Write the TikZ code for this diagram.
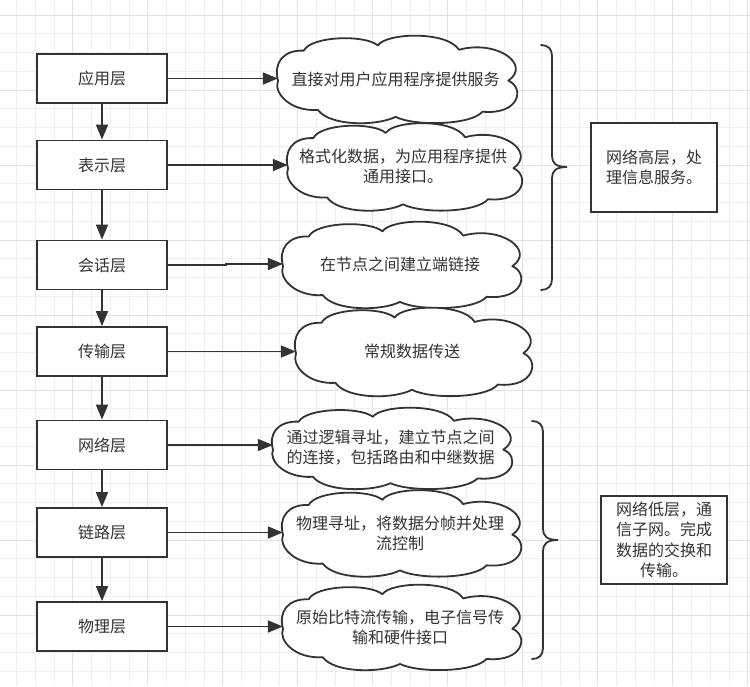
\documentclass[tikz,border=0pt]{standalone}
\usepackage{fontspec}
\usetikzlibrary{arrows.meta}
\newfontfamily\cjk{Noto Sans CJK SC}
\definecolor{ink}{HTML}{333333}
\definecolor{gridminor}{HTML}{EFEFEF}
\definecolor{gridmajor}{HTML}{E2E2E2}
\tikzset{
  layerbox/.style={draw=ink, line width=1.8pt, fill=white, minimum width=130pt, minimum height=49pt, inner sep=0pt, font=\cjk\fontsize{16}{20}\selectfont, text=ink},
  notebox/.style={draw=ink, line width=1.8pt, fill=white, minimum width=126pt, inner sep=0pt, align=center, font=\cjk\fontsize{16}{20.5}\selectfont, text=ink},
  cloudtext/.style={inner sep=0pt, align=center, font=\cjk\fontsize{16}{20}\selectfont, text=ink},
  cloudline/.style={draw=ink, line width=1.8pt, fill=white, line join=round},
  flow/.style={draw=ink, line width=1.8pt, -{Triangle[length=15pt,width=12pt]}},
  braceline/.style={draw=ink, line width=1.8pt, line cap=round},
}
% #1 name, #2 cx, #3 cy, #4 w, #5 h, #6 text
\newcommand\cloudnode[6]{%
  \begin{scope}[shift={({#2-#4/2},{#3-#5/2})}, x=#4pt, y=-#5pt]
    \draw[cloudline] (0,0.52)
      .. controls (-0.02,0.32) and (0.02,0.16) .. (0.11,0.17)
      .. controls (0.14,0.0) and (0.37,-0.02) .. (0.425,0.11)
      .. controls (0.46,-0.04) and (0.72,-0.06) .. (0.77,0.16)
      .. controls (0.93,0.04) and (1.08,0.33) .. (0.98,0.52)
      .. controls (1.05,0.6) and (1.03,0.92) .. (0.87,0.88)
      .. controls (0.82,1.04) and (0.58,1.05) .. (0.50,0.94)
      .. controls (0.42,1.05) and (0.22,1.05) .. (0.17,0.86)
      .. controls (0.05,0.88) and (-0.02,0.66) .. cycle;
  \end{scope}
  \node[cloudtext, minimum width=#4pt, minimum height=#5pt] (#1) at (#2,#3) {#6};%
}
\begin{document}
\begin{tikzpicture}[x=1pt,y=-1pt]
\useasboundingbox (0,0) rectangle (750,686);
\fill[white] (0,0) rectangle (750,686);
% grid
\foreach \i in {0,...,39} {\draw[gridminor, line width=0.8pt] ({16.45+18.75*\i},0) -- ++(0,686);}
\foreach \i in {0,...,35} {\draw[gridminor, line width=0.8pt] (0,{15+18.75*\i}) -- ++(750,0);}
\foreach \i in {0,...,9} {\draw[gridmajor, line width=0.9pt] ({72.7+75*\i},0) -- ++(0,686);}
\foreach \i in {0,...,8} {\draw[gridmajor, line width=0.9pt] (0,{15+75*\i}) -- ++(750,0);}

% layer boxes
\node[layerbox] (b1) at (102,78.5) {应用层};
\node[layerbox] (b2) at (102,165) {表示层};
\node[layerbox] (b3) at (102,265) {会话层};
\node[layerbox] (b4) at (102,351.5) {传输层};
\node[layerbox] (b5) at (102,445) {网络层};
\node[layerbox] (b6) at (102,532.5) {链路层};
\node[layerbox] (b7) at (102,626.5) {物理层};

% clouds
\cloudnode{c1}{395.5}{79}{235}{86}{直接对用户应用程序提供服务}
\cloudnode{c2}{403}{166.5}{230}{86}{格式化数据，为应用程序提供\\通用接口。}
\cloudnode{c3}{400}{264.5}{234}{85}{在节点之间建立端链接}
\cloudnode{c4}{412}{351.5}{232}{87}{常规数据传送}
\cloudnode{c5}{390.5}{448}{235}{80}{通过逻辑寻址，建立节点之间\\的连接，包括路由和中继数据}
\cloudnode{c6}{400}{533}{234}{85}{物理寻址，将数据分帧并处理\\流控制}
\cloudnode{c7}{400}{627}{234}{84}{原始比特流传输，电子信号传\\输和硬件接口}

% vertical flow
\draw[flow] (b1) -- (b2);
\draw[flow] (b2) -- (b3);
\draw[flow] (b3) -- (b4);
\draw[flow] (b4) -- (b5);
\draw[flow] (b5) -- (b6);
\draw[flow] (b6) -- (b7);

% horizontal flow
\draw[flow] (b1.east) -- (b1.east -| c1.west);
\draw[flow] (b2.east) -- (b2.east -| c2.west);
\draw[flow] (b3.east) -- ++(58,0) -- ++(0,-1) -- ([yshift=1pt]b3.east -| c3.west);
\draw[flow] (b4.east) -- (b4.east -| c4.west);
\draw[flow] (b5.east) -- (b5.east -| c5.west);
\draw[flow] (b6.east) -- (b6.east -| c6.west);
\draw[flow] (b7.east) -- (b7.east -| c7.west);

% braces
\draw[braceline] (541,45) .. controls (548,45) and (552,49) .. (552,56) -- (552,156)
  .. controls (552,163) and (556,167) .. (567,167)
  .. controls (556,167) and (552,171) .. (552,178) -- (552,279)
  .. controls (552,286) and (548,290) .. (541,290);
\draw[braceline] (532,421) .. controls (539,421) and (543,425) .. (543,432) -- (543,529)
  .. controls (543,536) and (547,540) .. (558,540)
  .. controls (547,540) and (543,544) .. (543,551) -- (543,648)
  .. controls (543,655) and (539,659) .. (532,659);

% notes
\node[notebox, minimum height=89pt] (n1) at (654,167.5) {网络高层，处\\理信息服务。};
\node[notebox, minimum height=88pt] (n2) at (664,540) {网络低层，通\\信子网。完成\\数据的交换和\\传输。};
\end{tikzpicture}
\end{document}
